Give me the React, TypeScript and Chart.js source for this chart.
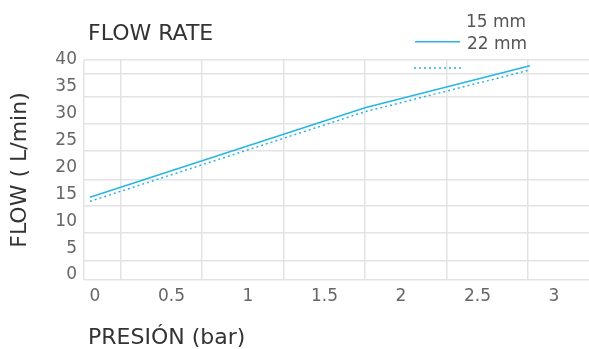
import { useEffect, useRef } from 'react';
import { Chart, registerables } from 'chart.js';

Chart.register(...registerables);

// ---- data ----
const chartTitle = 'FLOW RATE';
const xAxisTitle = 'PRESIÓN (bar)';
const yAxisTitle = 'FLOW ( L/min)';
const seriesNames = ['15 mm', '22 mm'];
const pressure = [-0.033, 1.765, 2.843];
const flow15 = [13.71, 30.38, 38.14];
const flow22 = [14.46, 31.13, 38.94];
const xTickValues = [0, 0.5, 1, 1.5, 2, 2.5, 3];
const yTickValues = [0, 5, 10, 15, 20, 25, 30, 35, 40];
const xGridValues = [-0.072, 0.17, 0.699, 1.235, 1.765, 2.301, 2.83];
const yGridValues = [-0.93, 2.66, 7.87, 12.84, 17.8, 23.07, 28.22, 33.17, 37.4, 40];
const xRange = [-0.072, 3.229];
const yRange = [-0.93, 40];

const FONT = "'DejaVu Sans', sans-serif";
const LINE_COLOR = '#29b5e3';
const GRID_COLOR = '#e3e3e3';
const TICK_COLOR = '#666666';
const TITLE_COLOR = '#333333';

const overlayPlugin = {
  id: 'overlay',
  afterDraw(chart: any) {
    const ctx = chart.ctx;
    ctx.save();
    ctx.textBaseline = 'alphabetic';
    ctx.textAlign = 'left';
    ctx.fillStyle = TITLE_COLOR;
    ctx.font = `22px ${FONT}`;
    ctx.fillText(chartTitle, 88, 39.5);
    ctx.fillText(xAxisTitle, 88, 343.5);

    // legend
    ctx.font = `17px ${FONT}`;
    ctx.fillStyle = '#555555';
    ctx.fillText(seriesNames[0], 466, 26.7);
    ctx.fillText(seriesNames[1], 467, 49.3);
    const ds = chart.data.datasets;
    // 22 mm sample (solid)
    ctx.strokeStyle = ds[1].borderColor;
    ctx.lineWidth = ds[1].borderWidth;
    ctx.setLineDash(ds[1].borderDash || []);
    ctx.beginPath();
    ctx.moveTo(415, 41.7);
    ctx.lineTo(460, 41.7);
    ctx.stroke();
    // 15 mm sample (dotted)
    ctx.strokeStyle = ds[0].borderColor;
    ctx.lineWidth = ds[0].borderWidth;
    ctx.setLineDash(ds[0].borderDash || []);
    ctx.beginPath();
    ctx.moveTo(414, 68);
    ctx.lineTo(462, 68);
    ctx.stroke();
    ctx.restore();
  },
};

export default function App() {
  const ref = useRef<HTMLCanvasElement | null>(null);

  useEffect(() => {
    if (!ref.current) return;
    const chart = new Chart(ref.current, {
      type: 'line',
      data: {
        datasets: [
          {
            label: seriesNames[0],
            data: pressure.map((x, i) => ({ x, y: flow15[i] })),
            borderColor: LINE_COLOR,
            borderWidth: 1.5,
            borderDash: [2, 3],
            pointRadius: 0,
            tension: 0,
            fill: false,
          },
          {
            label: seriesNames[1],
            data: pressure.map((x, i) => ({ x, y: flow22[i] })),
            borderColor: LINE_COLOR,
            borderWidth: 1.5,
            pointRadius: 0,
            tension: 0,
            fill: false,
          },
        ],
      },
      options: {
        animation: false,
        responsive: false,
        devicePixelRatio: 1,
        layout: { padding: { top: 60, left: 0, right: 0, bottom: 0 } },
        plugins: {
          legend: { display: false },
          title: { display: false },
          tooltip: { enabled: false },
        },
        scales: {
          xg: {
            type: 'linear',
            axis: 'x',
            position: 'bottom',
            min: xRange[0],
            max: xRange[1],
            grid: { color: GRID_COLOR, lineWidth: 1.5, drawTicks: false },
            border: { display: false },
            ticks: { display: false },
            afterBuildTicks: (s: any) => {
              s.ticks = xGridValues.map((v) => ({ value: v }));
            },
            afterFit: (s: any) => {
              s.height = 0;
            },
          },
          yg: {
            type: 'linear',
            axis: 'y',
            position: 'left',
            min: yRange[0],
            max: yRange[1],
            grid: { color: GRID_COLOR, lineWidth: 1.5, drawTicks: false },
            border: { display: false },
            ticks: { display: false },
            afterBuildTicks: (s: any) => {
              s.ticks = yGridValues.map((v) => ({ value: v }));
            },
            afterFit: (s: any) => {
              s.width = 0;
            },
          },
          x: {
            type: 'linear',
            position: 'bottom',
            min: xRange[0],
            max: xRange[1],
            grid: { display: false, drawTicks: false },
            border: { display: false },
            ticks: {
              autoSkip: false,
              maxRotation: 0,
              padding: 6,
              color: TICK_COLOR,
              font: { family: FONT, size: 17 },
              callback: (v: any) => String(v),
            },
            afterBuildTicks: (s: any) => {
              s.ticks = xTickValues.map((v) => ({ value: v }));
            },
            afterFit: (s: any) => {
              s.height = 69;
            },
          },
          y: {
            type: 'linear',
            position: 'left',
            min: yRange[0],
            max: yRange[1],
            grid: { display: false, drawTicks: false },
            border: { display: false },
            title: {
              display: true,
              text: yAxisTitle,
              color: TITLE_COLOR,
              font: { family: FONT, size: 22 },
              padding: { top: 7, bottom: 0 },
            },
            ticks: {
              autoSkip: false,
              padding: 7,
              color: TICK_COLOR,
              font: { family: FONT, size: 17 },
              callback: (v: any) => String(v),
            },
            afterBuildTicks: (s: any) => {
              s.ticks = yTickValues.map((v) => ({ value: v }));
            },
            afterFit: (s: any) => {
              s.width = 84;
            },
          },
        },
      },
      plugins: [overlayPlugin],
    } as any);
    return () => chart.destroy();
  }, []);

  return (
    <div style={{ position: 'fixed', left: 0, top: 0, width: 589, height: 349, background: '#fff' }}>
      <canvas ref={ref} width={589} height={349} />
    </div>
  );
}
